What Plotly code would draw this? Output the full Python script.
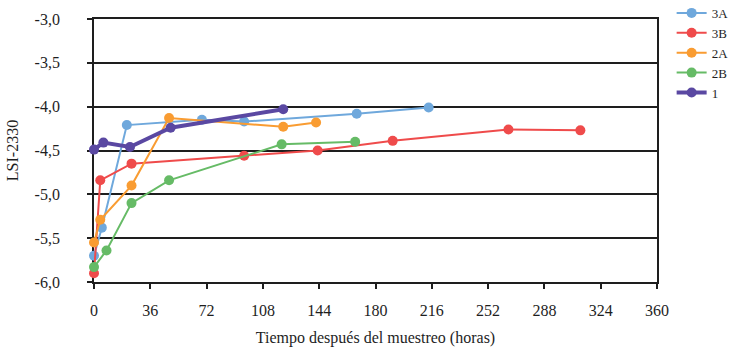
import plotly.graph_objects as go

# Hours after sampling and LSI-2330 values for each series
x_3a = [0, 5, 21, 69, 96, 168, 214]
y_3a = [-5.70, -5.38, -4.21, -4.15, -4.17, -4.08, -4.01]

x_3b = [0, 4, 24, 96, 143, 191, 265, 311]
y_3b = [-5.90, -4.84, -4.65, -4.56, -4.50, -4.39, -4.26, -4.27]

x_2a = [0, 4, 24, 48, 121, 142]
y_2a = [-5.55, -5.29, -4.90, -4.13, -4.23, -4.18]

x_2b = [0, 8, 24, 48, 120, 167]
y_2b = [-5.83, -5.64, -5.10, -4.84, -4.43, -4.40]

x_1 = [0, 6, 23, 49, 121]
y_1 = [-4.49, -4.41, -4.46, -4.24, -4.03]

x_ticks = [0, 36, 72, 108, 144, 180, 216, 252, 288, 324, 360]
y_ticks = [-6.0, -5.5, -5.0, -4.5, -4.0, -3.5, -3.0]
y_tick_text = ["-6,0", "-5,5", "-5,0", "-4,5", "-4,0", "-3,5", "-3,0"]

series = [
    ("3A", x_3a, y_3a, "#6fa8dc", 2),
    ("3B", x_3b, y_3b, "#ef4b4b", 2),
    ("2A", x_2a, y_2a, "#f99c32", 2),
    ("2B", x_2b, y_2b, "#66bb66", 2),
    ("1", x_1, y_1, "#5a48a2", 4),
]

FONT = "Liberation Serif, Times New Roman, serif"
INK = "#1e1e1e"

fig = go.Figure()
for name, xs, ys, color, lw in series:
    fig.add_trace(go.Scatter(
        x=xs, y=ys, name=name, mode="lines+markers",
        line=dict(color=color, width=lw),
        marker=dict(color=color, size=10),
        cliponaxis=False,
    ))

fig.update_layout(
    width=742, height=347,
    margin=dict(l=94, r=85, t=19, b=65, autoexpand=False),
    paper_bgcolor="white", plot_bgcolor="white",
    font=dict(family=FONT, size=16, color=INK),
    showlegend=True,
    legend=dict(
        x=1.026, y=1.08, xanchor="left", yanchor="top",
        font=dict(family=FONT, size=13, color=INK),
        itemwidth=30, tracegroupgap=0,
        bgcolor="rgba(0,0,0,0)",
    ),
)

fig.update_xaxes(
    range=[0, 360], tickvals=x_ticks,
    showgrid=False, zeroline=False,
    showline=True, linecolor=INK, linewidth=1.5, mirror=True,
    ticks="outside", ticklen=5, tickcolor=INK, tickwidth=1.5,
    ticklabelstandoff=8,
    tickfont=dict(family=FONT, size=16, color=INK),
    title=dict(text="Tiempo después del muestreo (horas)", standoff=14,
               font=dict(family=FONT, size=16, color=INK)),
    layer="below traces",
)
fig.update_yaxes(
    range=[-6.0, -3.0], tickvals=y_ticks, ticktext=y_tick_text,
    showgrid=True, gridcolor=INK, gridwidth=1.8, zeroline=False,
    showline=True, linecolor=INK, linewidth=1.8, mirror=True,
    ticks="outside", ticklen=5, tickcolor=INK, tickwidth=1.5,
    ticklabelstandoff=24,
    tickfont=dict(family=FONT, size=16, color=INK),
    title=dict(text="LSI-2330", standoff=12,
               font=dict(family=FONT, size=16, color=INK)),
    layer="below traces",
)

fig.write_html("out.html")
